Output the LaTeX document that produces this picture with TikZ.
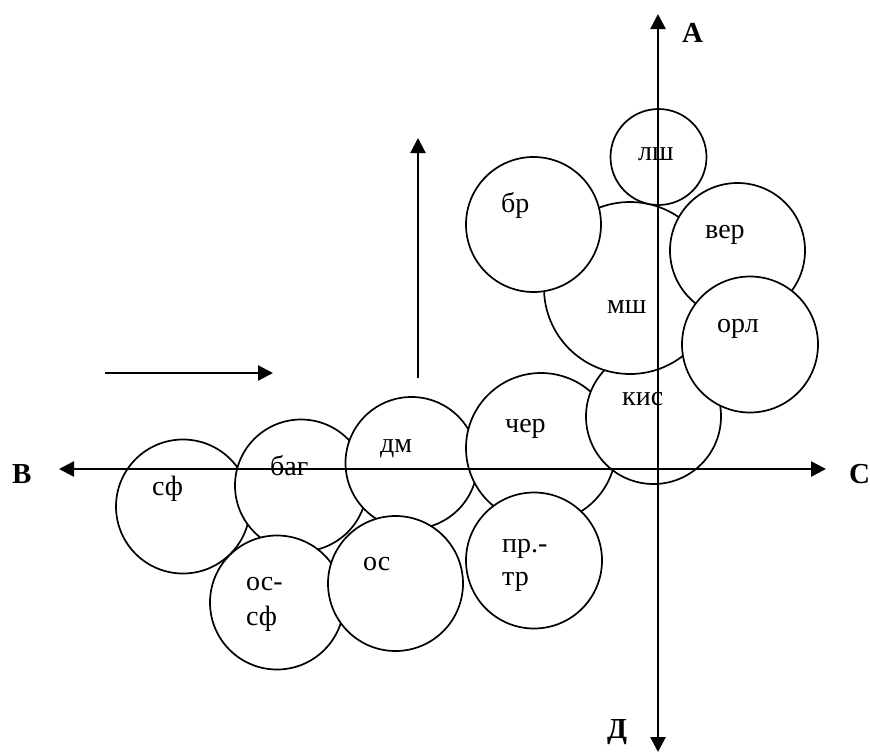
\documentclass[tikz,border=0pt]{standalone}
\usepackage{fontspec}
\setmainfont{Liberation Serif}
\usetikzlibrary{arrows.meta}
\begin{document}
\begin{tikzpicture}[x=1pt,y=-1pt,
  bub/.style={circle,draw,line width=1.7pt,fill=white,inner sep=0pt,minimum size=#1},
  lab/.style={anchor=base west,inner sep=0pt,font=\fontsize{28}{33}\selectfont},
  axlab/.style={anchor=base west,inner sep=0pt,font=\fontsize{29}{34}\selectfont\bfseries},
  tip/.style={Triangle[length=15pt,width=15pt]},
  axisline/.style={line width=2.6pt,{Triangle[length=15pt,width=15pt]}-{Triangle[length=15pt,width=15pt]}},
  arrowline/.style={line width=2.2pt,-{Triangle[length=15pt,width=15pt]}}]
\useasboundingbox (0,0) rectangle (870,753);
% circles, bottom to top
\node[bub=134pt] (csf) at (183,506.5) {};
\node[bub=132pt] (cbag) at (301,485.5) {};
\node[bub=132pt] (cdm) at (411.5,463) {};
\node[bub=150pt] (cche) at (541,448) {};
\node[bub=135pt] (ckis) at (653.5,416.5) {};
\node[bub=172pt] (cmsh) at (630,288) {};
\node[bub=135pt] (cbr) at (533.5,224.5) {};
\node[bub=96pt] (clsh) at (658.5,157) {};
\node[bub=135pt] (cver) at (737.5,250.5) {};
\node[bub=136pt] (corl) at (750,344.5) {};
\node[bub=134pt] (cossf) at (277,602.5) {};
\node[bub=135pt] (cos) at (395.5,583.5) {};
\node[bub=136pt] (cprtr) at (534,560.5) {};
% axes
\coordinate (vtop) at (658,14);
\coordinate (vbot) at (658,752);
\coordinate (hl) at (59,469);
\coordinate (hr) at (826,469);
\draw[axisline] (vbot) -- (vtop);
\draw[axisline] (hl) -- (hr);
% small arrows
\coordinate (ha) at (105,373);
\coordinate (hb) at (273,373);
\coordinate (va) at (418,378);
\coordinate (vb) at (418,138);
\draw[arrowline] (ha) -- (hb);
\draw[arrowline] (va) -- (vb);
% labels
\node[lab] (tlsh) at (638,160) {лш};
\node[lab] (tbr) at (501,212) {бр};
\node[lab] (tver) at (705,238) {вер};
\node[lab] (tmsh) at (607,313) {мш};
\node[lab] (torl) at (717,332) {орл};
\node[lab] (tkis) at (622,405) {кис};
\node[lab] (tche) at (505,432) {чер};
\node[lab] (tpr) at (502,552) {пр.-};
\node[lab] (ttr) at (502,585) {тр};
\node[lab] (tdm) at (380,452) {дм};
\node[lab] (tbag) at (270,475) {баг};
\node[lab] (tsf) at (152,495) {сф};
\node[lab] (tos) at (363,570) {ос};
\node[lab] (tos2) at (246,590) {ос-};
\node[lab] (tsf2) at (246,625) {сф};
% axis labels
\node[axlab] (la) at (682,42) {А};
\node[axlab] (lb) at (12,483) {В};
\node[axlab] (lc) at (849,483) {С};
\node[axlab] (ld) at (607,738) {Д};
\end{tikzpicture}
\end{document}
